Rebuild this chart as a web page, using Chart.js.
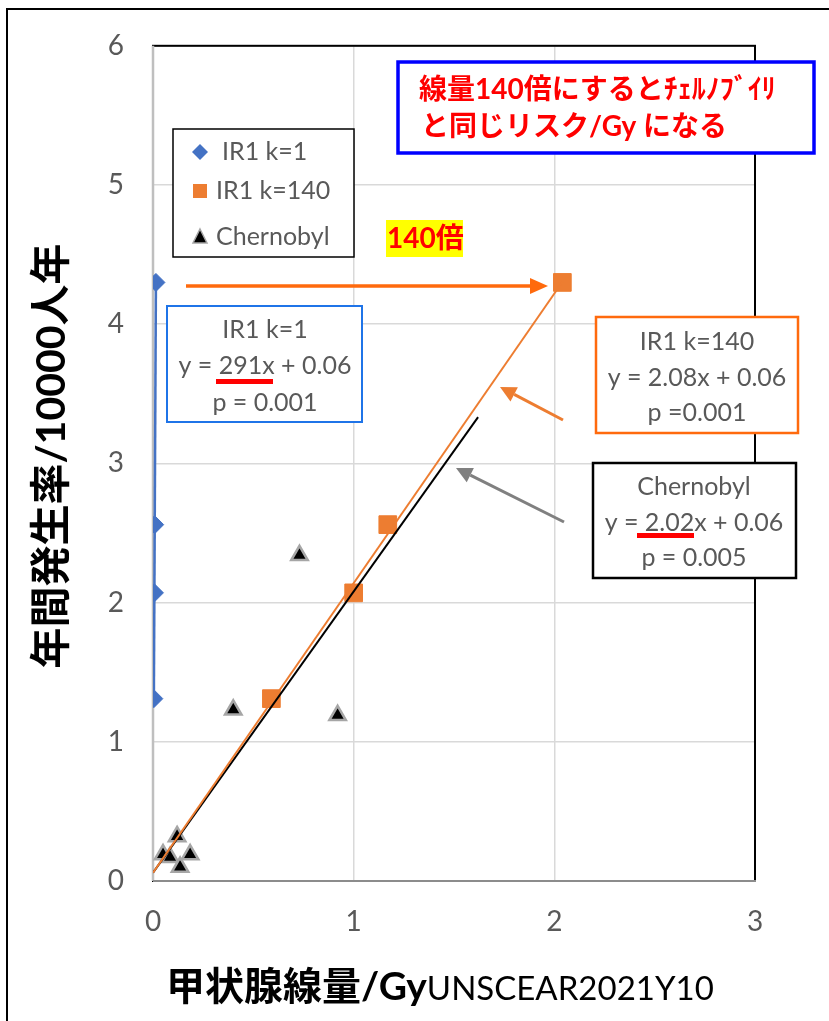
<!DOCTYPE html>
<html lang="ja">
<head>
<meta charset="utf-8">
<script src="https://cdn.jsdelivr.net/npm/chart.js@4/dist/chart.umd.min.js"></script>
<style>
html, body { margin: 0; padding: 0; background: #fff; }
canvas { display: block; }
</style>
</head>
<body>
<canvas id="c" width="829" height="1021"></canvas>
<script>
// Thyroid dose (Gy) against annual incidence per 10000 person-years
const doseK1 = [0.0042, 0.0072, 0.0084, 0.0146];
const doseK140 = [0.59, 1.00, 1.17, 2.04];
const rateIR1 = [1.31, 2.07, 2.56, 4.30];

const doseChernobyl = [0.05, 0.085, 0.12, 0.135, 0.185, 0.40, 0.73, 0.92];
const rateChernobyl = [0.19, 0.17, 0.32, 0.10, 0.19, 1.23, 2.34, 1.19];

// Linear fits y = slope * x + intercept, with the x span each line covers
const fitSlopes = [291, 2.08, 2.02];
const fitIntercepts = [0.06, 0.06, 0.06];
const fitSpans = [[0.0042, 0.0146], [0, 2.04], [0, 1.62]];

const seriesNames = ['IR1 k=1', 'IR1 k=140', 'Chernobyl'];
const xTicks = [0, 1, 2, 3];
const yTicks = [0, 1, 2, 3, 4, 5, 6];

const BLUE = '#4472C4';
const ORANGE = '#ED7D31';

function pts(xs, ys) { return xs.map((x, i) => ({ x: x, y: ys[i] })); }
function fitLine(i) {
  return fitSpans[i].map(x => ({ x: x, y: fitSlopes[i] * x + fitIntercepts[i] }));
}

const LATIN = 'Lato, "Noto Sans CJK JP", sans-serif';

function arrow(ctx, x1, y1, x2, y2, color, lw, headLen, headHalf) {
  const a = Math.atan2(y2 - y1, x2 - x1);
  const bx = x2 - Math.cos(a) * headLen, by = y2 - Math.sin(a) * headLen;
  ctx.save();
  ctx.strokeStyle = color; ctx.fillStyle = color; ctx.lineWidth = lw;
  ctx.beginPath(); ctx.moveTo(x1, y1); ctx.lineTo(bx, by); ctx.stroke();
  ctx.beginPath();
  ctx.moveTo(x2, y2);
  ctx.lineTo(bx + Math.sin(a) * headHalf, by - Math.cos(a) * headHalf);
  ctx.lineTo(bx - Math.sin(a) * headHalf, by + Math.cos(a) * headHalf);
  ctx.closePath(); ctx.fill();
  ctx.restore();
}

function box(ctx, x, y, w, h, color, lw) {
  ctx.save();
  ctx.fillStyle = '#fff';
  ctx.fillRect(x, y, w, h);
  ctx.strokeStyle = color; ctx.lineWidth = lw;
  ctx.strokeRect(x, y, w, h);
  ctx.restore();
}

function centeredLines(ctx, cx, ys, lines, font, color) {
  ctx.save();
  ctx.font = font; ctx.fillStyle = color;
  ctx.textAlign = 'center'; ctx.textBaseline = 'middle';
  lines.forEach((t, i) => ctx.fillText(t, cx, ys[i]));
  ctx.restore();
}

const decor = {
  id: 'decor',
  beforeDraw(chart) {
    const ctx = chart.ctx;
    ctx.save();
    ctx.fillStyle = '#fff';
    ctx.fillRect(0, 0, chart.width, chart.height);
    // outer chart frame
    ctx.strokeStyle = '#000'; ctx.lineWidth = 2;
    ctx.beginPath();
    ctx.moveTo(7, chart.height + 5); ctx.lineTo(7, 9); ctx.lineTo(chart.width + 5, 9);
    ctx.stroke();
    ctx.restore();
  },
  beforeDatasetsDraw(chart) {
    const ctx = chart.ctx, a = chart.chartArea;
    ctx.save();
    ctx.strokeStyle = '#000'; ctx.lineWidth = 2;
    ctx.strokeRect(a.left, a.top, a.right - a.left, a.bottom - a.top);
    ctx.strokeStyle = '#BFBFBF'; ctx.lineWidth = 2.5;
    ctx.beginPath(); ctx.moveTo(a.left, a.top); ctx.lineTo(a.left, a.bottom); ctx.stroke();
    ctx.strokeStyle = '#8C8C8C'; ctx.lineWidth = 2;
    ctx.beginPath(); ctx.moveTo(a.left, a.bottom); ctx.lineTo(a.right + 1, a.bottom); ctx.stroke();
    ctx.restore();
  },
  afterDraw(chart) {
    const ctx = chart.ctx;

    // axis titles
    ctx.save();
    ctx.translate(52, 456);
    ctx.rotate(-Math.PI / 2);
    ctx.font = 'bold 41px ' + LATIN;
    ctx.fillStyle = '#000';
    ctx.textAlign = 'center'; ctx.textBaseline = 'middle';
    ctx.fillText('年間発生率/10000人年', 0, 0);
    ctx.restore();

    ctx.save();
    ctx.fillStyle = '#000';
    ctx.textBaseline = 'alphabetic'; ctx.textAlign = 'left';
    ctx.font = 'bold 39px ' + LATIN;
    const t1 = '甲状腺線量/Gy';
    ctx.fillText(t1, 166, 1000);
    const w1 = ctx.measureText(t1).width;
    ctx.font = '33px ' + LATIN;
    ctx.fillText('UNSCEAR2021Y10', 166 + w1, 1000);
    ctx.restore();

    // legend
    box(ctx, 173, 129, 181, 128, '#000', 1.5);
    const legY = [152, 191, 237];
    const legX = [222, 216, 216];
    ctx.save();
    ctx.fillStyle = BLUE;
    ctx.beginPath();
    ctx.moveTo(200, legY[0] - 8); ctx.lineTo(208, legY[0]); ctx.lineTo(200, legY[0] + 8); ctx.lineTo(192, legY[0]);
    ctx.closePath(); ctx.fill();
    ctx.fillStyle = ORANGE;
    ctx.fillRect(193, legY[1] - 7, 14, 14);
    ctx.fillStyle = '#000'; ctx.strokeStyle = '#A6A6A6'; ctx.lineWidth = 1.5;
    ctx.beginPath();
    ctx.moveTo(200, legY[2] - 8); ctx.lineTo(207, legY[2] + 6); ctx.lineTo(193, legY[2] + 6);
    ctx.closePath(); ctx.fill(); ctx.stroke();
    ctx.font = '25px ' + LATIN; ctx.fillStyle = '#595959';
    ctx.textAlign = 'left'; ctx.textBaseline = 'middle';
    seriesNames.forEach((n, i) => ctx.fillText(n, legX[i], legY[i]));
    ctx.restore();

    // headline box
    box(ctx, 398, 62, 416, 91, '#0000FF', 3.5);
    ctx.save();
    ctx.font = 'bold 28px ' + LATIN; ctx.fillStyle = '#FF0000';
    ctx.textAlign = 'left'; ctx.textBaseline = 'alphabetic';
    ctx.fillText('線量140倍にするとﾁｪﾙﾉﾌﾞｲﾘ', 419, 99);
    ctx.fillText('と同じリスク/Gy になる', 421, 136);
    ctx.restore();

    // "140倍" tag
    ctx.save();
    ctx.fillStyle = '#FFFF00';
    ctx.fillRect(386, 220, 77, 37);
    ctx.font = 'bold 28px ' + LATIN; ctx.fillStyle = '#FF0000';
    ctx.textAlign = 'left'; ctx.textBaseline = 'middle';
    ctx.fillText('140倍', 387, 239);
    ctx.restore();

    // arrows
    arrow(ctx, 186, 286, 548, 286, '#FF6A0D', 3.5, 18, 8);
    arrow(ctx, 563, 420, 500, 387, ORANGE, 3, 16, 8);
    arrow(ctx, 564, 522, 456, 468, '#808080', 3, 16, 8);

    // fit equation boxes
    const eqFont = '25px ' + LATIN, grey = '#595959';
    box(ctx, 167, 306, 195, 116, '#1F74E8', 2);
    centeredLines(ctx, 265, [330, 366, 403],
      ['IR1 k=1', 'y = 291x + 0.06', 'p = 0.001'], eqFont, grey);
    ctx.fillStyle = '#FF0000';
    ctx.fillRect(216, 379, 57, 5);

    box(ctx, 596, 317, 202, 116, '#FF6A0D', 2.5);
    centeredLines(ctx, 697, [342, 378, 413],
      ['IR1 k=140', 'y = 2.08x + 0.06', 'p =0.001'], eqFont, grey);

    box(ctx, 593, 463, 203, 115, '#000', 2.5);
    centeredLines(ctx, 694, [487, 523, 558],
      ['Chernobyl', 'y = 2.02x + 0.06', 'p = 0.005'], eqFont, grey);
    ctx.fillStyle = '#FF0000';
    ctx.fillRect(637, 533, 57, 5);
  }
};

new Chart(document.getElementById('c'), {
  type: 'scatter',
  data: {
    datasets: [
      { label: 'fit ' + seriesNames[0], type: 'line', data: fitLine(0), borderColor: BLUE, borderWidth: 2.5,
        pointRadius: 0, fill: false, order: 0 },
      { label: 'fit ' + seriesNames[1], type: 'line', data: fitLine(1), borderColor: ORANGE, borderWidth: 2,
        pointRadius: 0, fill: false, order: 0 },
      { label: 'fit ' + seriesNames[2], type: 'line', data: fitLine(2), borderColor: '#000', borderWidth: 2,
        pointRadius: 0, fill: false, order: 0 },
      { label: seriesNames[0], data: pts(doseK1, rateIR1), pointStyle: 'rectRot', pointRadius: 9,
        backgroundColor: BLUE, borderColor: BLUE, borderWidth: 1, order: 1 },
      { label: seriesNames[1], data: pts(doseK140, rateIR1), pointStyle: 'rect', pointRadius: 12.5,
        backgroundColor: ORANGE, borderColor: ORANGE, borderWidth: 1, order: 1 },
      { label: seriesNames[2], data: pts(doseChernobyl, rateChernobyl), pointStyle: 'triangle', pointRadius: 9.5,
        backgroundColor: '#000', borderColor: '#A6A6A6', borderWidth: 2.5, order: 1 }
    ]
  },
  options: {
    responsive: false,
    animation: false,
    events: [],
    layout: { padding: { left: 0, right: 74, top: 39, bottom: 0 } },
    plugins: { legend: { display: false }, tooltip: { enabled: false } },
    scales: {
      x: {
        type: 'linear', min: 0, max: 3,
        afterBuildTicks: s => { s.ticks = xTicks.map(v => ({ value: v })); },
        afterFit: s => { s.height = 140; },
        grid: { color: '#D9D9D9', lineWidth: 1.5, drawTicks: false },
        border: { display: false },
        ticks: { color: '#595959', font: { family: 'Lato', size: 28 }, padding: 24 }
      },
      y: {
        type: 'linear', min: 0, max: 6,
        afterBuildTicks: s => { s.ticks = yTicks.map(v => ({ value: v })); },
        afterFit: s => { s.width = 153; },
        grid: { color: '#D9D9D9', lineWidth: 1.5, drawTicks: false },
        border: { display: false },
        ticks: { color: '#595959', font: { family: 'Lato', size: 28 }, padding: 29 }
      }
    }
  },
  plugins: [decor]
});
</script>
</body>
</html>
